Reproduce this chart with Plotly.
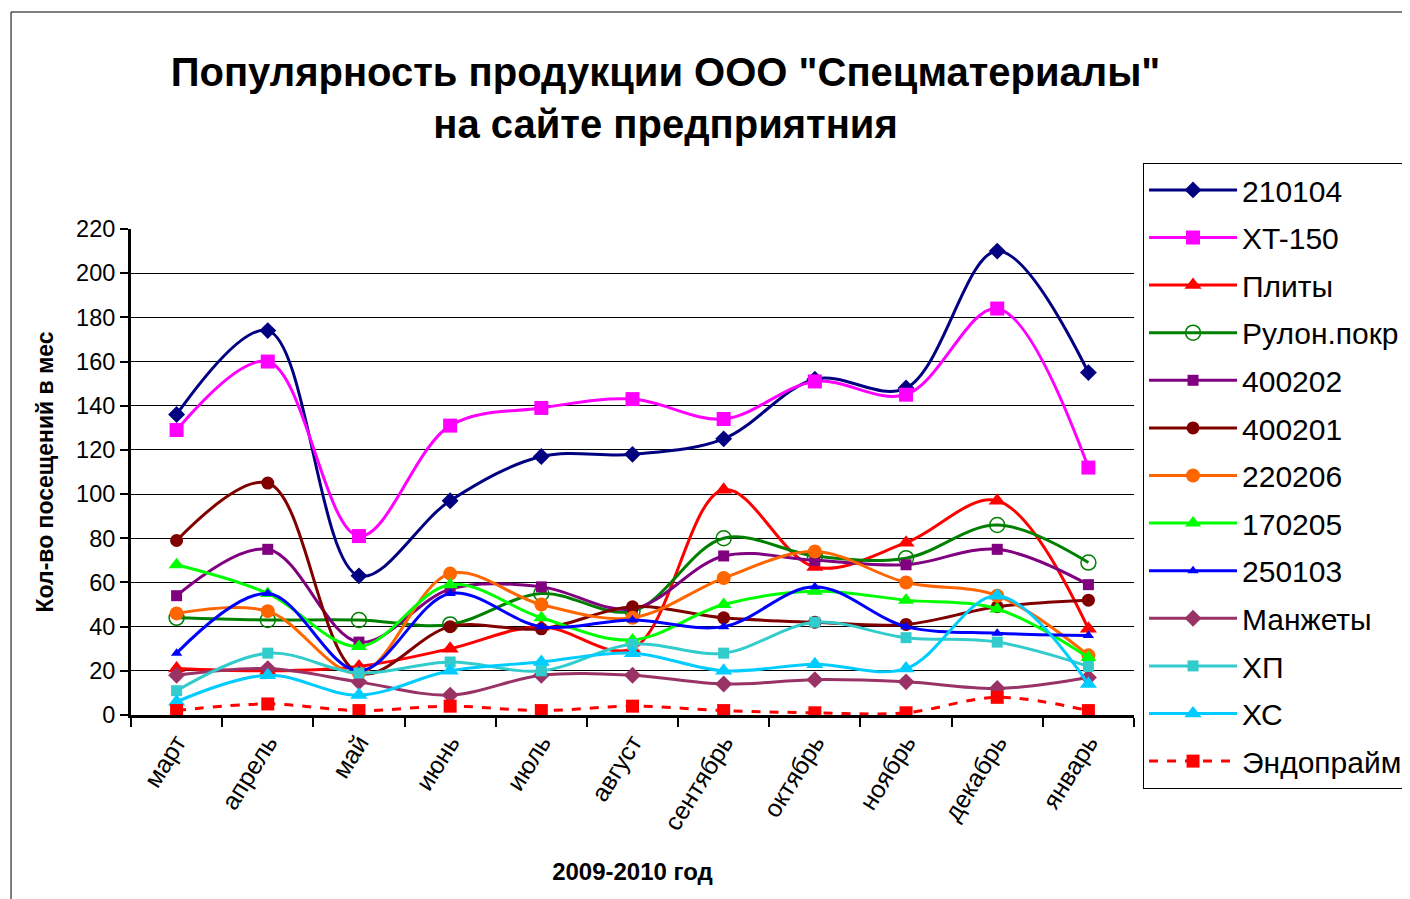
import plotly.graph_objects as go

months = ["март", "апрель", "май", "июнь", "июль", "август", "сентябрь", "октябрь", "ноябрь", "декабрь", "январь"]

s_210104 = [136, 174, 63, 97, 117, 118, 125, 152, 148, 210, 155]
s_xt150 = [129, 160, 81, 131, 139, 143, 134, 151, 145, 184, 112]
s_plity = [21, 20, 22, 30, 40, 30, 102, 67, 78, 97, 39]
s_rulon = [44, 43, 43, 41, 55, 47, 80, 72, 71, 86, 69]
s_400202 = [54, 75, 33, 57, 58, 48, 72, 70, 68, 75, 59]
s_400201 = [79, 105, 19, 40, 39, 49, 44, 42, 41, 49, 52]
s_220206 = [46, 47, 19, 64, 50, 44, 62, 74, 60, 54, 27]
s_170205 = [68, 55, 31, 59, 44, 34, 50, 56, 52, 48, 26]
s_250103 = [28, 55, 20, 55, 40, 43, 40, 58, 40, 37, 36]
s_manzhety = [18, 21, 15, 9, 18, 18, 14, 16, 15, 12, 17]
s_xp = [11, 28, 19, 24, 20, 32, 28, 42, 35, 33, 22]
s_xc = [6, 18, 9, 20, 24, 28, 20, 23, 21, 54, 14]
s_endo = [2, 5, 2, 4, 2, 4, 2, 1, 1, 8, 2]

series = [
    ("210104", s_210104, "#000080", "diamond", 13, "solid"),
    ("XT-150", s_xt150, "#FF00FF", "square", 14, "solid"),
    ("Плиты", s_plity, "#FF0000", "triangle-up", 15, "solid"),
    ("Рулон.покр", s_rulon, "#008000", "circle-open", 15, "solid"),
    ("400202", s_400202, "#800080", "square", 11, "solid"),
    ("400201", s_400201, "#800000", "circle", 13, "solid"),
    ("220206", s_220206, "#FF6600", "circle", 14, "solid"),
    ("170205", s_170205, "#00FF00", "triangle-up", 14, "solid"),
    ("250103", s_250103, "#0000FF", "triangle-up", 10, "solid"),
    ("Манжеты", s_manzhety, "#993366", "diamond", 13, "solid"),
    ("ХП", s_xp, "#33CCCC", "square", 11, "solid"),
    ("ХС", s_xc, "#00CCFF", "triangle-up", 15, "solid"),
    ("Эндопрайм", s_endo, "#FF0000", "square", 13, "dash"),
]

fig = go.Figure()
for i, (name, vals, color, sym, size, dash) in enumerate(series):
    fig.add_trace(go.Scatter(
        x=months, y=vals, name=name, mode="lines+markers",
        line=dict(color=color, width=3, shape="spline", smoothing=1, dash=dash),
        marker=dict(symbol=sym, size=size, color=color,
                    line=dict(color=color, width=1.5 if sym == "circle-open" else 0)),
        legendgroup="g%d" % i,
    ))

font_family = "Liberation Sans, Arial, sans-serif"

fig.update_layout(
    width=1402, height=891,
    margin=dict(l=123, r=276, t=221, b=184, autoexpand=False),
    paper_bgcolor="white", plot_bgcolor="white",
    font=dict(family=font_family, color="black"),
    title=dict(
        text="<b>Популярность продукции ООО \"Спецматериалы\"<br>на сайте предприятния</b>",
        x=0.469, xanchor="center", y=0.9127, yanchor="top",
        font=dict(size=40, family=font_family, color="black"),
    ),
    xaxis=dict(
        type="category", range=[-0.5, 10.5],
        showline=True, linecolor="black", linewidth=3,
        ticks="outside", tickson="boundaries", ticklen=9, tickwidth=2, tickcolor="black",
        tickangle=-58, tickfont=dict(size=25),
        showgrid=False,
        title=dict(text="<b>2009-2010 год</b>", font=dict(size=24), standoff=30),
    ),
    yaxis=dict(
        range=[0, 220], dtick=20, tick0=0,
        showline=True, linecolor="black", linewidth=3,
        ticks="outside", ticklen=8, tickwidth=2, tickcolor="black",
        tickfont=dict(size=23.5),
        showgrid=True, gridcolor="black", gridwidth=1,
        zeroline=False,
        title=dict(text="<b>Кол-во посещений в мес</b>",
                   font=dict(size=23, family="Liberation Sans Narrow, Liberation Sans, Arial"),
                   standoff=17),
    ),
    legend=dict(
        x=1.009, xanchor="left", y=1.136, yanchor="top",
        bgcolor="white", bordercolor="black", borderwidth=1,
        font=dict(size=30, family=font_family), tracegroupgap=5.6,
        itemwidth=88, maxheight=1.0,
    ),
    shapes=[dict(type="rect", xref="paper", yref="paper",
                 x0=-0.1196, x1=1.6, y0=-1, y1=1.4465,
                 line=dict(color="black", width=1), layer="below")],
)

fig.write_html("out.html")
